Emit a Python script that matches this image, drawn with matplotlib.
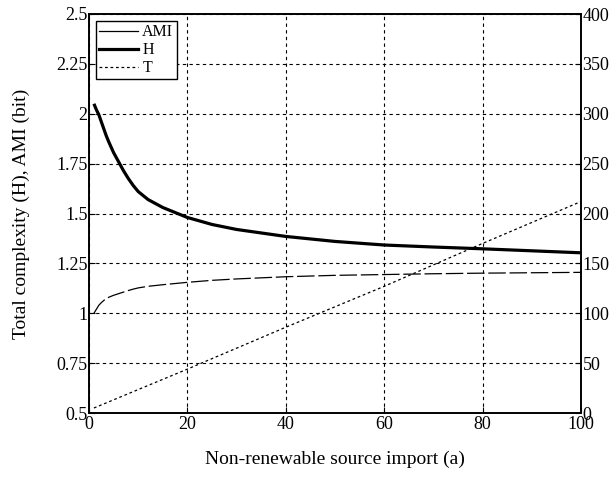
import matplotlib
matplotlib.use("Agg")
import matplotlib.pyplot as plt
from matplotlib.lines import Line2D

plt.rcParams["font.family"] = ["Liberation Serif", "DejaVu Serif"]

# Non-renewable source import (a)
a_vals = [1, 1.5, 2, 2.5, 3, 3.5, 4, 5, 6, 7, 8, 9, 10, 12, 15, 20, 25, 30, 40,
          50, 60, 70, 80, 90, 100]
# Total complexity H (bit)
h_vals = [2.05, 2.02, 1.995, 1.96, 1.925, 1.89, 1.86, 1.805, 1.76, 1.715, 1.675,
          1.64, 1.61, 1.57, 1.53, 1.48, 1.445, 1.42, 1.385, 1.36, 1.342, 1.332,
          1.323, 1.313, 1.303]
# Average mutual information AMI (bit)
ami_vals = [1.0, 1.02, 1.04, 1.053, 1.064, 1.073, 1.08, 1.09, 1.098, 1.106, 1.114,
            1.121, 1.127, 1.135, 1.143, 1.155, 1.165, 1.172, 1.183, 1.19, 1.194,
            1.198, 1.201, 1.203, 1.205]
# Total throughput T (right axis)
t_a = [1, 20, 40, 60, 80, 100]
t_vals = [5, 44, 86, 127, 170, 212]

x_ticks = [0, 20, 40, 60, 80, 100]
left_ticks = [0.5, 0.75, 1, 1.25, 1.5, 1.75, 2, 2.25, 2.5]
left_labels = ["0.5", "0.75", "1", "1.25", "1.5", "1.75", "2", "2.25", "2.5"]
right_ticks = [0, 50, 100, 150, 200, 250, 300, 350, 400]

fig = plt.figure(figsize=(6.13, 4.79), dpi=100)
ax = fig.add_axes([89 / 613, 66 / 479, 492 / 613, 399 / 479])
ax2 = ax.twinx()

ax.set_xlim(0, 100)
ax.set_ylim(0.5, 2.5)
ax2.set_ylim(0, 400)

grid_kw = dict(color="black", linewidth=0.8, linestyle=(0, (3, 3)))
ax.grid(True, **grid_kw)
ax.set_axisbelow(True)

ax.plot(a_vals, ami_vals, color="black", linewidth=0.9, linestyle=(0, (14, 3)))
ax.plot(a_vals, h_vals, color="black", linewidth=2.3, solid_capstyle="butt")
ax2.plot(t_a, t_vals, color="black", linewidth=0.9, linestyle=(0, (2.2, 2.2)))

ax.set_xticks(x_ticks)
ax.set_yticks(left_ticks)
ax.set_yticklabels(left_labels)
ax2.set_yticks(right_ticks)

for axis in (ax, ax2):
    axis.tick_params(direction="in", length=4, width=0.8, labelsize=13,
                     colors="black")
    for sp in axis.spines.values():
        sp.set_linewidth(1.2)
        sp.set_color("black")
ax.tick_params(axis="y", pad=1)
ax.tick_params(axis="x", pad=2)
ax2.tick_params(axis="y", pad=1)

ax.set_xlabel("Non-renewable source import (a)", fontsize=14)
ax.set_ylabel("Total complexity (H), AMI (bit)", fontsize=14)
ax.xaxis.set_label_coords(0.5, -0.095)
ax.yaxis.set_label_coords(-0.12, 0.5)

handles = [
    Line2D([], [], color="black", linewidth=0.9),
    Line2D([], [], color="black", linewidth=2.3),
    Line2D([], [], color="black", linewidth=0.9, linestyle=(0, (2.2, 2.2))),
]
leg = ax2.legend(handles, ["AMI", "H", "T"], loc="upper left",
                 bbox_to_anchor=(0.0142, 0.982), borderaxespad=0,
                 fontsize=11.5, handlelength=2.4, handletextpad=0.3,
                 labelspacing=0.12, borderpad=0.2, fancybox=False,
                 framealpha=1, edgecolor="black")
leg.get_frame().set_linewidth(1.0)

fig.savefig("out.png", dpi=100)
